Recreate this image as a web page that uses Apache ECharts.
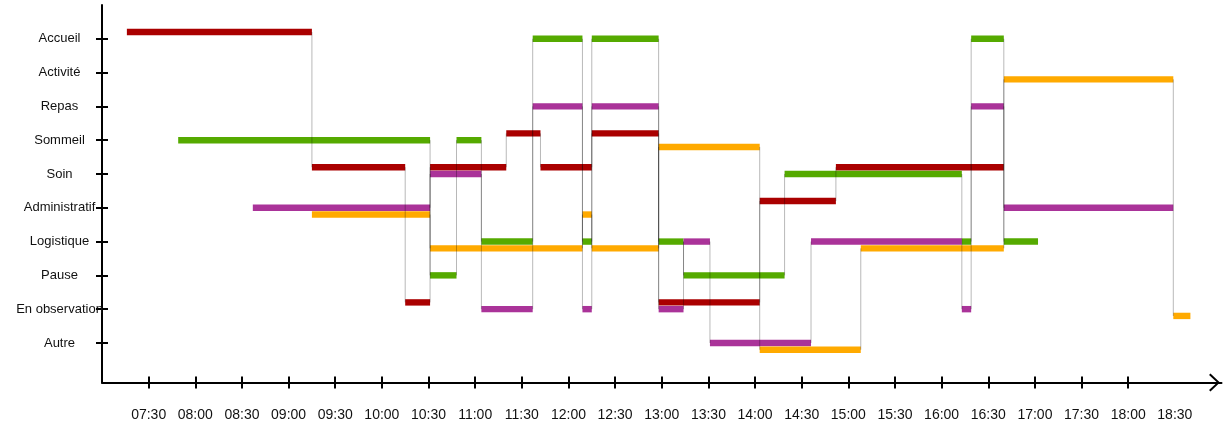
<!DOCTYPE html>
<html>
<head>
<meta charset="utf-8">
<script src="https://cdn.jsdelivr.net/npm/echarts@6/dist/echarts.min.js"></script>
<style>
html,body{margin:0;padding:0;background:#ffffff;}
#chart{width:1230px;height:425px;}
</style>
</head>
<body>
<div id="chart"></div>
<script>
// ---- data ----
const categories = ['Accueil','Activité','Repas','Sommeil','Soin','Administratif','Logistique','Pause','En observation','Autre'];
const xTickLabels = ['07:30','08:00','08:30','09:00','09:30','10:00','10:30','11:00','11:30','12:00','12:30','13:00','13:30','14:00','14:30','15:00','15:30','16:00','16:30','17:00','17:30','18:00','18:30'];
const xTickMarks = ['07:30','08:00','08:30','09:00','09:30','10:00','10:30','11:00','11:30','12:00','12:30','13:00','13:30','14:00','14:30','15:00','15:30','16:00','16:30','17:00','17:30','18:00'];
const xRange = ['07:00','19:00'];

const redSegments = [
  ['07:16','09:15','Accueil'],
  ['09:15','10:15','Soin'],
  ['10:15','10:31','En observation'],
  ['10:31','11:20','Soin'],
  ['11:20','11:42','Sommeil'],
  ['11:42','12:15','Soin'],
  ['12:15','12:58','Sommeil'],
  ['12:58','14:03','En observation'],
  ['14:03','14:52','Administratif'],
  ['14:52','16:40','Soin']
];
const greenSegments = [
  ['07:49','10:31','Sommeil'],
  ['10:31','10:48','Pause'],
  ['10:48','11:04','Sommeil'],
  ['11:04','11:37','Logistique'],
  ['11:37','12:09','Accueil'],
  ['12:09','12:15','Logistique'],
  ['12:15','12:58','Accueil'],
  ['12:58','13:14','Logistique'],
  ['13:14','14:19','Pause'],
  ['14:19','16:13','Soin'],
  ['16:13','16:19','Logistique'],
  ['16:19','16:40','Accueil'],
  ['16:40','17:02','Logistique']
];
const purpleSegments = [
  ['08:37','10:31','Administratif'],
  ['10:31','11:04','Soin'],
  ['11:04','11:37','En observation'],
  ['11:37','12:09','Repas'],
  ['12:09','12:15','En observation'],
  ['12:15','12:58','Repas'],
  ['12:58','13:14','En observation'],
  ['13:14','13:31','Logistique'],
  ['13:31','14:36','Autre'],
  ['14:36','16:13','Logistique'],
  ['16:13','16:19','En observation'],
  ['16:19','16:40','Repas'],
  ['16:40','18:29','Administratif']
];
const orangeSegments = [
  ['09:15','10:31','Administratif'],
  ['10:31','12:09','Logistique'],
  ['12:09','12:15','Administratif'],
  ['12:15','12:58','Logistique'],
  ['12:58','14:03','Sommeil'],
  ['14:03','15:08','Autre'],
  ['15:08','16:40','Logistique'],
  ['16:40','18:29','Activité'],
  ['18:29','18:40','En observation']
];

// ---- helpers ----
function toMin(s){ const p = s.split(':'); return (+p[0]) * 60 + (+p[1]); }
function fmt(m){ const h = Math.floor(m / 60), mm = m % 60; return String(h).padStart(2,'0') + ':' + String(mm).padStart(2,'0'); }
function level(name){ return categories.length - 1 - categories.indexOf(name); }

const people = [
  { segs: redSegments,    color: '#aa0000', off: 0.2 },
  { segs: greenSegments,  color: '#55aa00', off: 0 },
  { segs: purpleSegments, color: '#aa3399', off: 0 },
  { segs: orangeSegments, color: '#ffaa00', off: -0.2 }
];

const series = [];
people.forEach(function (p) {
  const bars = p.segs.map(s => [toMin(s[0]), toMin(s[1]), level(s[2])]);
  const links = [];
  for (let i = 0; i + 1 < bars.length; i++) {
    if (bars[i][1] === bars[i + 1][0]) links.push([bars[i][1], bars[i][2], bars[i + 1][2]]);
  }
  series.push({
    type: 'custom', xAxisIndex: 0, yAxisIndex: 0, z: 2, silent: true, animation: false,
    encode: { x: [0, 1], y: 2 },
    data: bars,
    renderItem: function (params, api) {
      const y = api.value(2) + p.off;
      const a = api.coord([api.value(0), y]);
      const b = api.coord([api.value(1), y]);
      return { type: 'rect', shape: { x: a[0], y: a[1] - 3.2, width: b[0] - a[0], height: 6.4 }, style: { fill: p.color } };
    }
  });
  series.push({
    type: 'custom', xAxisIndex: 0, yAxisIndex: 0, z: 3, silent: true, animation: false,
    encode: { x: 0, y: [1, 2] },
    data: links,
    renderItem: function (params, api) {
      const a = api.coord([api.value(0), api.value(1) + p.off]);
      const b = api.coord([api.value(0), api.value(2) + p.off]);
      return { type: 'line', shape: { x1: a[0], y1: a[1], x2: b[0], y2: b[1] }, style: { stroke: 'rgba(0,0,0,0.28)', lineWidth: 1 } };
    }
  });
});

const tickVals = xTickMarks.map(toMin);
const labelVals = xTickLabels.map(toMin);
const levels = categories.map((c, i) => i);
const xMin = toMin(xRange[0]), xMax = toMin(xRange[1]);
const yMin = -1.17, yMax = 10;

const axisColor = '#000';
const chart = echarts.init(document.getElementById('chart'), null, { renderer: 'canvas' });
chart.setOption({
  animation: false,
  backgroundColor: '#ffffff',
  grid: { left: 102, right: 8.5, top: 5, bottom: 42.5, containLabel: false, outerBoundsMode: 'none' },
  xAxis: [
    {
      type: 'value', position: 'bottom', min: xMin, max: xMax,
      axisLine: { show: true, onZero: false, lineStyle: { color: axisColor, width: 2 },
        symbol: ['none', 'path://M0,9.5L9,0L18,9.5L16.6,10.9L9,2.8L1.4,10.9Z'], symbolSize: [18, 11], symbolOffset: [0, -7] },
      axisTick: { show: true, inside: false, length: 6, lineStyle: { color: axisColor, width: 2 }, customValues: tickVals },
      axisLabel: { show: true, margin: 26, color: '#111', fontSize: 14, fontFamily: 'Liberation Sans, Arial, sans-serif',
        customValues: labelVals, formatter: v => fmt(v) },
      splitLine: { show: false }
    },
    {
      type: 'value', position: 'bottom', min: xMin, max: xMax,
      axisLine: { show: false, onZero: false },
      axisTick: { show: true, inside: true, length: 6, lineStyle: { color: axisColor, width: 2 }, customValues: tickVals },
      axisLabel: { show: false },
      splitLine: { show: false }
    }
  ],
  yAxis: [
    {
      type: 'value', position: 'left', min: yMin, max: yMax,
      axisLine: { show: true, onZero: false, lineStyle: { color: axisColor, width: 2 } },
      axisTick: { show: true, inside: false, length: 6, lineStyle: { color: axisColor, width: 2 }, customValues: levels },
      axisLabel: { show: true, margin: 42.5, align: 'center', color: '#111', fontSize: 13, fontFamily: 'Liberation Sans, Arial, sans-serif',
        customValues: levels, formatter: v => categories[categories.length - 1 - Math.round(v)] },
      splitLine: { show: false }
    },
    {
      type: 'value', position: 'left', min: yMin, max: yMax,
      axisLine: { show: false, onZero: false },
      axisTick: { show: true, inside: true, length: 6, lineStyle: { color: axisColor, width: 2 }, customValues: levels },
      axisLabel: { show: false },
      splitLine: { show: false }
    }
  ],
  series: series
});
</script>
</body>
</html>
